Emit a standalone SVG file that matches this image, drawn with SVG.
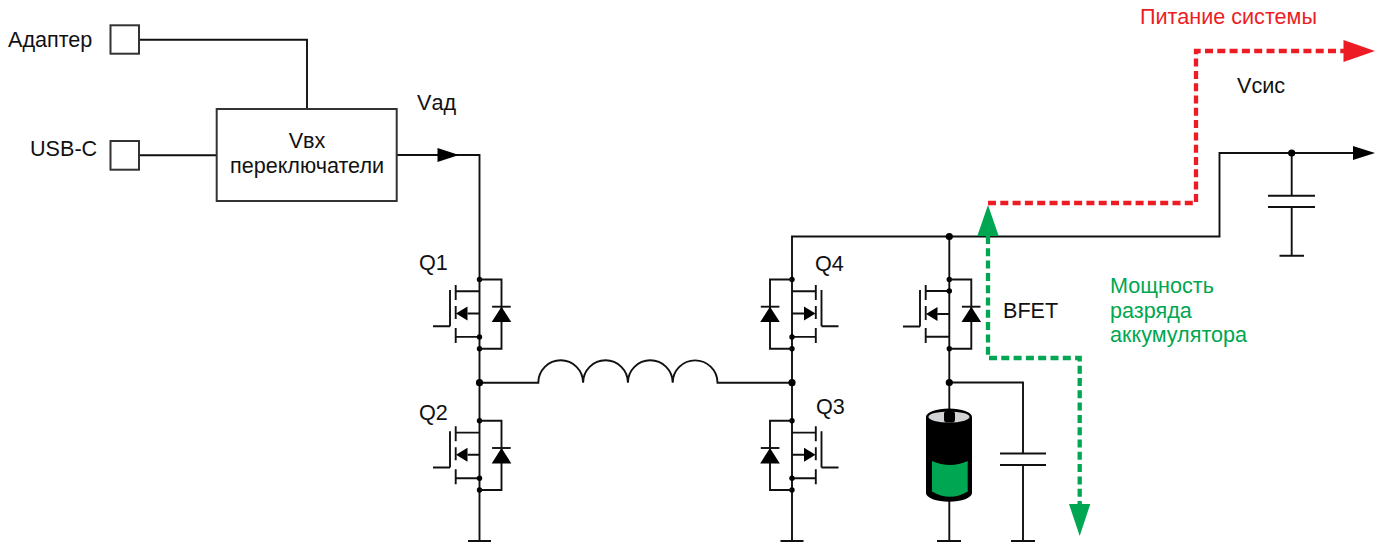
<svg xmlns="http://www.w3.org/2000/svg" xmlns:xlink="http://www.w3.org/1999/xlink" width="1384" height="544" viewBox="0 0 1384 544">
<style>
text{font-family:"Liberation Sans",Arial,sans-serif;font-size:21.6px;fill:#111}
.w{fill:none;stroke:#111;stroke-width:1.9}
.b{fill:#000;stroke:none}
.box{fill:#fff;stroke:#333;stroke-width:2}
.red{fill:none;stroke:#ed1c24;stroke-width:4.300;stroke-dasharray:8 4.300}
.green{fill:none;stroke:#00a651;stroke-width:4.300;stroke-dasharray:8 4.300}
text.g{fill:#00a651}
text.r{fill:#ed1c24}
</style>
<defs>
<g id="diode"><path class="w" d="M0 0H22V69.200H0"/><path class="b" d="M22 27.200L31.800 42.600H12.200Z"/><path class="w" d="M12.600 27.200H31.200"/></g>
<g id="fet">
<path class="w" d="M0 0V69.200M0 11.800H-23.800M0 34H-12M0 57.400H-23.800"/>
<path class="w" d="M-23.800 5.500V20.500M-23.800 26.500V39.500M-23.800 48.500V63.500M-29.500 10.500V46.700M-29.500 46.700H-46.500"/>
<path class="b" d="M-23.500 34L-12 27V41Z"/>
<circle class="b" cx="0" cy="0" r="2.700"/><circle class="b" cx="0" cy="57.400" r="2.700"/><circle class="b" cx="0" cy="69.200" r="2.700"/>
<use xlink:href="#diode" href="#diode"/>
</g>
</defs>

<g id="connectors">
<path class="w" d="M139 39.700H307V109M139 155.300H217M397 155H479.500V280"/>
<path class="b" d="M437.500 148L459 155L437.500 162Z"/>
<path class="w" d="M479.500 348V421M479.500 490V541M468 541H491"/>
<path class="w" d="M479.500 382.700H538.300A22.400 22.400 0 0 1 583.100 382.700A22.400 22.400 0 0 1 627.900 382.700A22.400 22.400 0 0 1 672.700 382.700A22.400 22.400 0 0 1 717.500 382.700H792"/>
<path class="w" d="M792 348V421M792 490V541M780.500 541H803.500"/>
<path class="w" d="M792 280V236.500H1219.500V153H1354"/>
<path class="b" d="M1353 146L1375 153L1353 160Z"/>
<path class="w" d="M949.300 236.500V280M949.300 348V409M949.300 500V541M937 541H961"/>
<path class="w" d="M949.300 382.500H1023V453.500M1023 465V541M1011 541H1035"/>
<path class="w" d="M1000 453.500H1046M1000 465H1046"/>
<path class="w" d="M1291.700 153V196M1291.700 207V255.700M1268 195.700H1315M1268 207H1315M1279.500 255.700H1304"/>
<circle class="b" cx="479.500" cy="382.700" r="3.600"/>
<circle class="b" cx="792" cy="382.700" r="3.600"/>
<circle class="b" cx="949.300" cy="236.500" r="3.600"/>
<circle class="b" cx="949.300" cy="382.500" r="3.600"/>
<circle class="b" cx="1291.700" cy="153" r="3.600"/>
</g>

<g id="node-adapter"><rect class="box" x="110.500" y="25.300" width="28.500" height="28.400"/><text x="8" y="47">Адаптер</text></g>
<g id="node-usbc"><rect class="box" x="110.500" y="141" width="28.500" height="28.700"/><text x="30" y="156">USB-C</text></g>
<g id="node-switches"><rect class="box" x="216.700" y="109" width="180" height="92"/>
<text x="307" y="148" text-anchor="middle">Vвх</text><text x="307" y="172.500" text-anchor="middle">переключатели</text></g>
<g id="label-vad"><text x="417" y="110">Vад</text></g>

<g id="q1"><use xlink:href="#fet" href="#fet" transform="translate(479.500 279.500)"/><text x="419" y="270">Q1</text></g>
<g id="q2"><use xlink:href="#fet" href="#fet" transform="translate(479.500 420.800)"/><text x="419" y="420">Q2</text></g>
<g id="q4"><use xlink:href="#fet" href="#fet" transform="translate(792 279.500) scale(-1 1)"/><text x="815" y="271">Q4</text></g>
<g id="q3"><use xlink:href="#fet" href="#fet" transform="translate(792 420.800) scale(-1 1)"/><text x="816" y="414">Q3</text></g>

<g id="bfet">
<path class="w" d="M949.300 279.500V348.700M949.300 291H925.700M949.300 314H937.300M949.300 336.800H925.700"/>
<path class="w" d="M925.700 285V300M925.700 306V320M925.700 328V343M920 290V326.500M920 326.500H903"/>
<path class="b" d="M926 314L937.500 307V321Z"/>
<circle class="b" cx="949.300" cy="279.500" r="2.700"/><circle class="b" cx="949.300" cy="291" r="2.700"/><circle class="b" cx="949.300" cy="348.700" r="2.700"/>
<use xlink:href="#diode" href="#diode" transform="translate(949.300 279.500)"/>
<text x="1003" y="318">BFET</text>
</g>

<g id="battery">
<path d="M926 417A23 8.500 0 0 1 972 417V493A23 8.700 0 0 1 926 493Z" fill="#000"/>
<ellipse cx="949" cy="417" rx="20.500" ry="5.500" fill="#d1d3d4"/>
<rect x="944" y="411" width="11" height="11.500" rx="3" fill="#000"/>
<path d="M932 461Q950 469 967.700 461V491.500Q950 502 932 491.500Z" fill="#00a651"/>
</g>

<g id="flow-system">
<path class="red" d="M988 203H1196V51H1344"/>
<path d="M1343.500 40L1375 51L1343.500 62Z" fill="#ed1c24"/>
<text class="r" x="1140" y="24">Питание системы</text>
<text x="1237" y="93">Vсис</text>
</g>
<g id="flow-battery">
<path class="green" d="M988 236V358H1079.700V505"/>
<path d="M977.300 236L988 205L998.700 236Z" fill="#00a651"/>
<path d="M1069 504H1090.300L1079.700 536Z" fill="#00a651"/>
<text class="g" x="1110" y="293">Мощность</text>
<text class="g" x="1110" y="318">разряда</text>
<text class="g" x="1110" y="342">аккумулятора</text>
</g>
</svg>
